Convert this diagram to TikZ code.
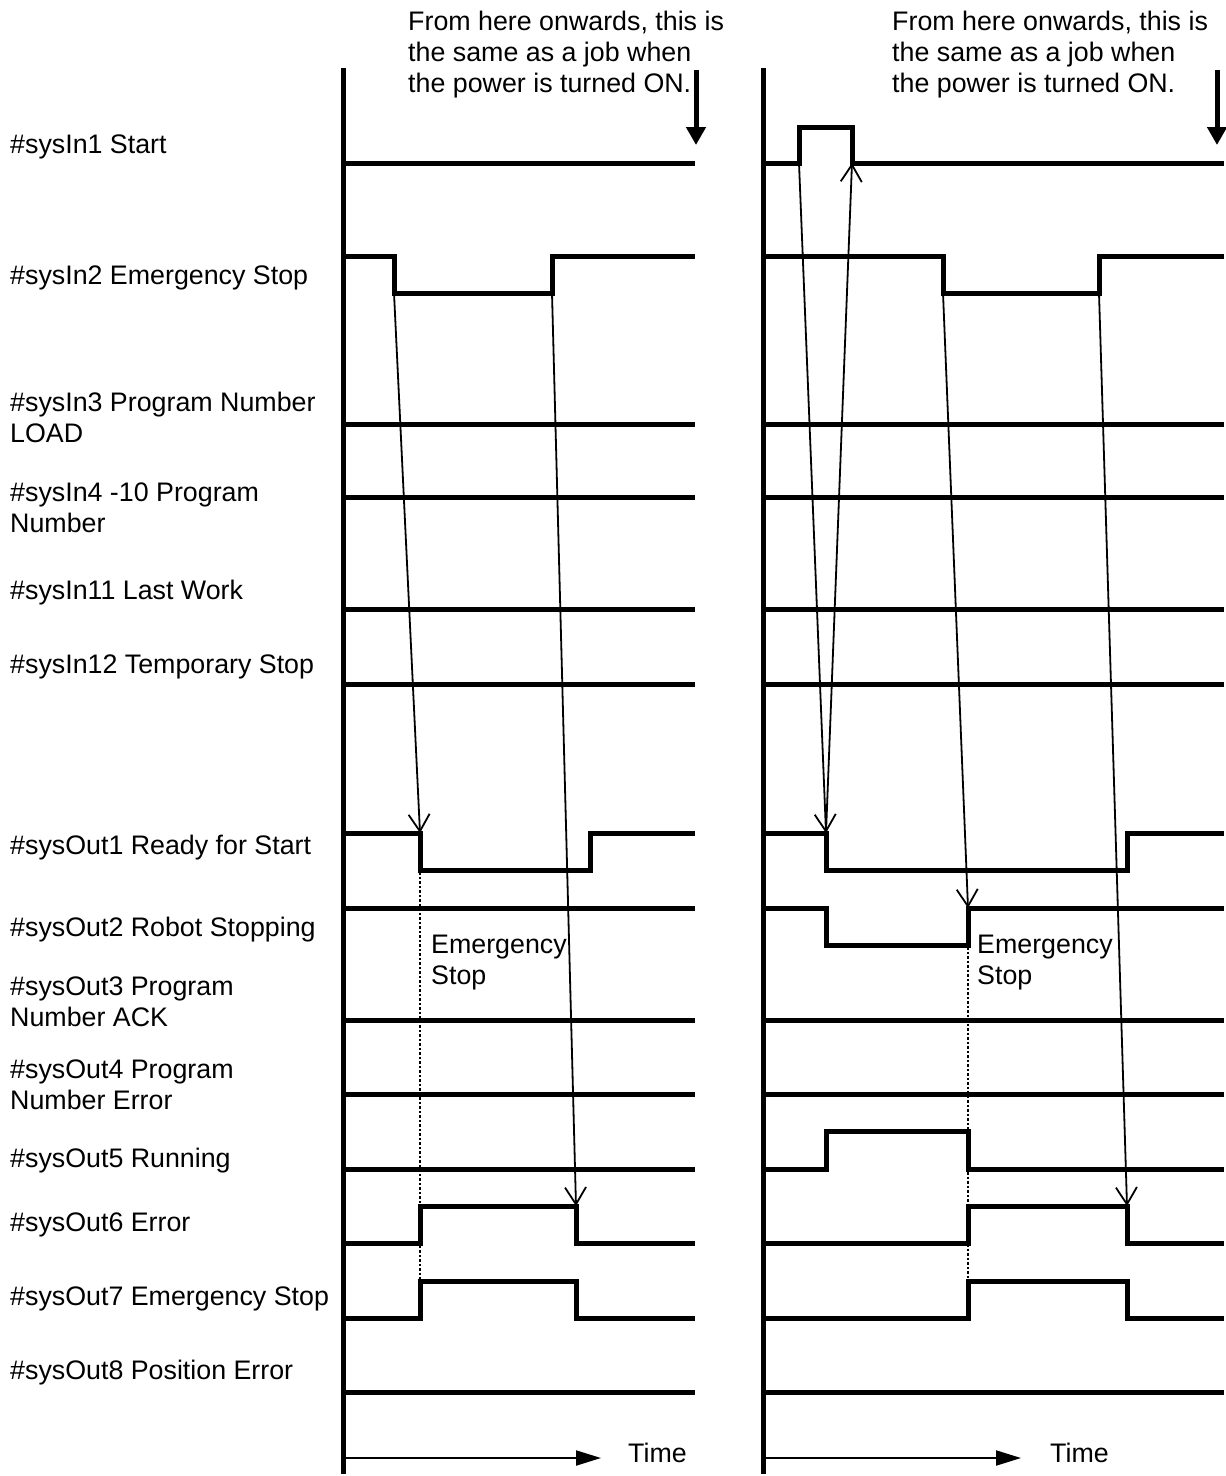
\documentclass[tikz,border=0pt]{standalone}
\usepackage{fontspec}
\setmainfont{Liberation Sans}
\usetikzlibrary{arrows.meta}
\begin{document}
\begin{tikzpicture}[x=1pt,y=-1pt,
  sig/.style={line width=5pt, line join=miter, line cap=butt},
  axisline/.style={line width=5pt},
  cause/.style={line width=1.8pt, -{Straight Barb[length=17pt,width=21pt,line width=1.8pt]}},
  bigarrow/.style={line width=5pt, -{Triangle[length=18pt,width=19pt]}},
  timearrow/.style={line width=2pt, -{Triangle[length=25pt,width=15pt]}},
  guide/.style={line width=2.5pt, dotted},
  lbl/.style={anchor=north west, align=left, inner sep=0pt, font=\fontsize{26.8}{31}\selectfont},
]
\useasboundingbox (0,0) rectangle (1226,1476);

% ---------- labels ----------
\node[lbl] (l1)  at (10,135)  {\#sysIn1 Start};
\node[lbl] (l2)  at (10,266)  {\#sysIn2 Emergency Stop};
\node[lbl] (l3)  at (10,392)  {\#sysIn3 Program Number\\LOAD};
\node[lbl] (l4)  at (10,483)  {\#sysIn4 -10 Program\\Number};
\node[lbl] (l5)  at (10,580)  {\#sysIn11 Last Work};
\node[lbl] (l6)  at (10,655)  {\#sysIn12 Temporary Stop};
\node[lbl] (l7)  at (10,835)  {\#sysOut1 Ready for Start};
\node[lbl] (l8)  at (10,917)  {\#sysOut2 Robot Stopping};
\node[lbl] (l9)  at (10,977)  {\#sysOut3 Program\\Number ACK};
\node[lbl] (l10) at (10,1060) {\#sysOut4 Program\\Number Error};
\node[lbl] (l11) at (10,1148) {\#sysOut5 Running};
\node[lbl] (l12) at (10,1213) {\#sysOut6 Error};
\node[lbl] (l13) at (10,1287) {\#sysOut7 Emergency Stop};
\node[lbl] (l14) at (10,1360) {\#sysOut8 Position Error};

% ---------- top notes ----------
\node[lbl] (noteL) at (408,11) {From here onwards, this is\\the same as a job when\\the power is turned ON.};
\node[lbl] (noteR) at (892,11) {From here onwards, this is\\the same as a job when\\the power is turned ON.};
\coordinate (aLtop) at (696,70);  \coordinate (aLtip) at (696,145);
\coordinate (aRtop) at (1217,70); \coordinate (aRtip) at (1217,145);
\draw[bigarrow] (aLtop) -- (aLtip);
\draw[bigarrow] (aRtop) -- (aRtip);

% ---------- axes ----------
\coordinate (axLt) at (343,68);  \coordinate (axLb) at (343,1474);
\coordinate (axRt) at (763,68);  \coordinate (axRb) at (763,1474);
\draw[axisline] (axLt) -- (axLb);
\draw[axisline] (axRt) -- (axRb);

% ---------- left panel signals ----------
\draw[sig] (343,163) -- (695,163);
\draw[sig] (343,256) -- (394,256) -- (394,293) -- (552,293) -- (552,256) -- (695,256);
\draw[sig] (343,424) -- (695,424);
\draw[sig] (343,497) -- (695,497);
\draw[sig] (343,609) -- (695,609);
\draw[sig] (343,684) -- (695,684);
\draw[sig] (343,833) -- (420,833) -- (420,870) -- (590,870) -- (590,833) -- (695,833);
\draw[sig] (343,908) -- (695,908);
\draw[sig] (343,1020) -- (695,1020);
\draw[sig] (343,1094) -- (695,1094);
\draw[sig] (343,1169) -- (695,1169);
\draw[sig] (343,1243) -- (420,1243) -- (420,1206) -- (576,1206) -- (576,1243) -- (695,1243);
\draw[sig] (343,1318) -- (420,1318) -- (420,1281) -- (576,1281) -- (576,1318) -- (695,1318);
\draw[sig] (343,1392) -- (695,1392);

% ---------- right panel signals ----------
\draw[sig] (763,163) -- (799,163) -- (799,127) -- (852,127) -- (852,163) -- (1224,163);
\draw[sig] (763,256) -- (943,256) -- (943,293) -- (1099,293) -- (1099,256) -- (1224,256);
\draw[sig] (763,424) -- (1224,424);
\draw[sig] (763,497) -- (1224,497);
\draw[sig] (763,609) -- (1224,609);
\draw[sig] (763,684) -- (1224,684);
\draw[sig] (763,833) -- (826,833) -- (826,870) -- (1127,870) -- (1127,833) -- (1224,833);
\draw[sig] (763,908) -- (826,908) -- (826,945) -- (968,945) -- (968,908) -- (1224,908);
\draw[sig] (763,1020) -- (1224,1020);
\draw[sig] (763,1094) -- (1224,1094);
\draw[sig] (763,1169) -- (826,1169) -- (826,1131) -- (968,1131) -- (968,1169) -- (1224,1169);
\draw[sig] (763,1243) -- (968,1243) -- (968,1206) -- (1127,1206) -- (1127,1243) -- (1224,1243);
\draw[sig] (763,1318) -- (968,1318) -- (968,1281) -- (1127,1281) -- (1127,1318) -- (1224,1318);
\draw[sig] (763,1392) -- (1224,1392);

% ---------- edge points ----------
\coordinate (Lin2fall) at (394,293);
\coordinate (Lin2rise) at (552,293);
\coordinate (Lout1fall) at (420,833);
\coordinate (Lout6fall) at (576,1206);
\coordinate (Rin1rise) at (799,163);
\coordinate (Rin1fall) at (852,163);
\coordinate (Rout1fall) at (826,833);
\coordinate (Rin2fall) at (943,293);
\coordinate (Rin2rise) at (1099,293);
\coordinate (Rout2rise) at (968,908);
\coordinate (Rout6fall) at (1127,1206);

% ---------- cause arrows ----------
\draw[cause] (Lin2fall) -- (Lout1fall);
\draw[cause] (Lin2rise) -- (Lout6fall);
\draw[cause] (Rin1rise) -- (Rout1fall);
\draw[cause] (Rout1fall) -- (Rin1fall);
\draw[cause] (Rin2fall) -- (Rout2rise);
\draw[cause] (Rin2rise) -- (Rout6fall);

% ---------- dotted guides ----------
\coordinate (gLt) at (420,872); \coordinate (gLb) at (420,1281);
\coordinate (gRt) at (968,947); \coordinate (gRb) at (968,1281);
\draw[guide] (gLt) -- (gLb);
\draw[guide] (gRt) -- (gRb);
\node[lbl] (esL) at (431,935) {Emergency\\Stop};
\node[lbl] (esR) at (977,935) {Emergency\\Stop};

% ---------- time axes ----------
\coordinate (tLs) at (343,1458); \coordinate (tLe) at (601,1458);
\coordinate (tRs) at (763,1458); \coordinate (tRe) at (1021,1458);
\draw[timearrow] (tLs) -- (tLe);
\draw[timearrow] (tRs) -- (tRe);
\node[lbl] (timeL) at (628,1443) {Time};
\node[lbl] (timeR) at (1050,1443) {Time};
\end{tikzpicture}
\end{document}
